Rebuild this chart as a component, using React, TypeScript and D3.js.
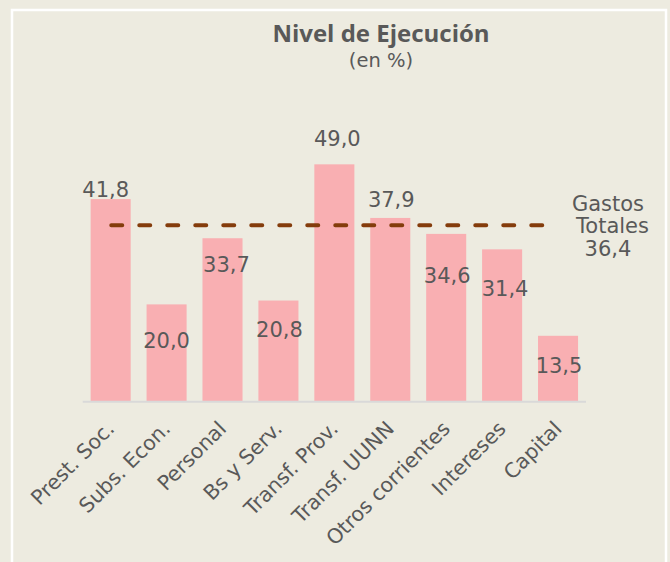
import React from "react";
import * as d3 from "d3";

const categories = [
  "Prest. Soc.",
  "Subs. Econ.",
  "Personal",
  "Bs y Serv.",
  "Transf. Prov.",
  "Transf. UUNN",
  "Otros corrientes",
  "Intereses",
  "Capital",
];
const values = [41.8, 20.0, 33.7, 20.8, 49.0, 37.9, 34.6, 31.4, 13.5];
const totalValue = 36.4;
const totalLabel = ["Gastos", "Totales"];

// label placement offsets relative to bar top / bar centre (manual Excel placements)
const labelDx = [-5, 0, 4, 1, 3, 1, 1, 3, 1];
const labelDy = [-2, 44, 34, 36, -18, -11, 49, 47, 37];

const W = 670;
const H = 562;
const fmt = (v: number) => d3.format(".1f")(v).replace(".", ",");

export default function App() {
  const x = d3
    .scaleBand<string>()
    .domain(categories)
    .range([82.7, 586])
    .paddingInner(0.284)
    .paddingOuter(0.142);
  const y = d3.scaleLinear().domain([0, 50]).range([401, 159.5]);
  const bw = x.bandwidth();
  const textColor = "#595959";
  const font = "'DejaVu Sans', sans-serif";

  const lineX1 = (x(categories[0]) as number) + bw / 2 + 0.6;
  const lineX2 = (x(categories[categories.length - 1]) as number) + 4.3;
  const lineY = y(totalValue);

  return (
    <svg
      width={W}
      height={H}
      style={{ position: "absolute", left: 0, top: 0, display: "block" }}
    >
      <rect x={0} y={0} width={W} height={H} fill="#EDEBE0" />
      <rect
        x={12}
        y={10}
        width={654}
        height={620}
        fill="none"
        stroke="#FFFFFF"
        strokeWidth={2.5}
      />
      <text
        x={381}
        y={42}
        textAnchor="middle"
        fontFamily="'Open Sans', sans-serif"
        fontWeight={700}
        fontSize={24}
        fill={textColor}
      >
        Nivel de Ejecución
      </text>
      <text
        x={381}
        y={67}
        textAnchor="middle"
        fontFamily={font}
        fontSize={19.5}
        fill={textColor}
      >
        (en %)
      </text>

      {categories.map((c, i) => (
        <rect
          key={c}
          x={x(c)}
          y={y(values[i])}
          width={bw}
          height={y(0) - y(values[i])}
          fill="#F9AFB2"
        />
      ))}

      <line
        x1={82.7}
        x2={586}
        y1={y(0) + 0.8}
        y2={y(0) + 0.8}
        stroke="#D9D9D9"
        strokeWidth={2}
      />

      <line
        x1={lineX1}
        x2={lineX2}
        y1={lineY}
        y2={lineY}
        stroke="#843C0C"
        strokeWidth={4}
        strokeDasharray="11 17"
        strokeLinecap="round"
      />

      {categories.map((c, i) => (
        <text
          key={"v" + c}
          x={(x(c) as number) + bw / 2 + labelDx[i]}
          y={y(values[i]) + labelDy[i]}
          textAnchor="middle"
          fontFamily={font}
          fontSize={21}
          fill={textColor}
        >
          {fmt(values[i])}
        </text>
      ))}

      {categories.map((c) => {
        const ax = (x(c) as number) + bw / 2 + 5;
        const ay = 430;
        return (
          <text
            key={"x" + c}
            transform={`translate(${ax},${ay}) rotate(-45)`}
            textAnchor="end"
            fontFamily={font}
            fontSize={20.5}
            fill={textColor}
          >
            {c}
          </text>
        );
      })}

      <g fontFamily={font} fontSize={21} fill={textColor} textAnchor="middle">
        <text x={608} y={211}>
          {totalLabel[0]}
        </text>
        <text x={612.5} y={233}>
          {totalLabel[1]}
        </text>
        <text x={608} y={256}>
          {fmt(totalValue)}
        </text>
      </g>
    </svg>
  );
}
